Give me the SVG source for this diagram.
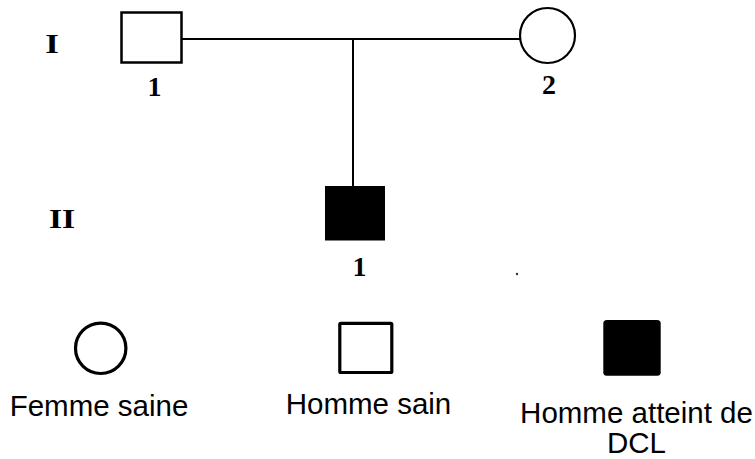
<svg xmlns="http://www.w3.org/2000/svg" width="755" height="459" viewBox="0 0 755 459">
<style>
.gen{font-family:"Liberation Serif","Times New Roman",serif;font-weight:bold;font-size:28px;fill:#000;}
.num{font-family:"Liberation Serif","Times New Roman",serif;font-weight:bold;font-size:28px;fill:#000;text-anchor:middle;}
.leg{font-family:"Liberation Sans",Arial,sans-serif;font-size:29.5px;fill:#000;}
.sym{fill:#fff;stroke:#000;}
</style>
<rect width="755" height="459" fill="#fff"/>
<g id="connectors" stroke="#000" stroke-width="2" fill="none">
<line x1="182" y1="39" x2="520" y2="39"/>
<line x1="353" y1="39" x2="353" y2="187"/>
</g>
<g id="gen-I"><text class="gen" x="52" y="53" text-anchor="middle" transform="translate(52 53) scale(1.25 1) translate(-52 -53)">I</text></g>
<g id="gen-II"><text class="gen" x="62" y="228" text-anchor="middle" transform="translate(62 228) scale(1.2 1) translate(-62 -228)">II</text></g>
<g id="I-1">
<rect class="sym" x="121.5" y="12.5" width="60" height="50" stroke-width="2.5"/>
<text class="num" x="154.5" y="96">1</text>
</g>
<g id="I-2">
<circle class="sym" cx="547.5" cy="35.5" r="27.5" stroke-width="2.2"/>
<text class="num" x="549" y="94">2</text>
</g>
<g id="II-1">
<rect x="325" y="186" width="60" height="54.5" fill="#000"/>
<text class="num" x="359.5" y="276">1</text>
</g>
<circle cx="517" cy="274" r="1.2" fill="#333"/>
<g id="legend-femme">
<ellipse class="sym" cx="100.7" cy="348.3" rx="25.2" ry="25.2" stroke-width="3.2"/>
<text class="leg" x="99" y="416" text-anchor="middle">Femme saine</text>
</g>
<g id="legend-homme">
<rect class="sym" x="339.8" y="323.3" width="52" height="49.2" rx="1" stroke-width="3.2"/>
<text class="leg" x="368.5" y="414" text-anchor="middle">Homme sain</text>
</g>
<g id="legend-atteint">
<rect x="603.3" y="320" width="57.4" height="55.7" rx="3.5" fill="#000"/>
<text class="leg" x="636.5" y="423" text-anchor="middle">Homme atteint de</text>
<text class="leg" x="636.5" y="453" text-anchor="middle">DCL</text>
</g>
</svg>
